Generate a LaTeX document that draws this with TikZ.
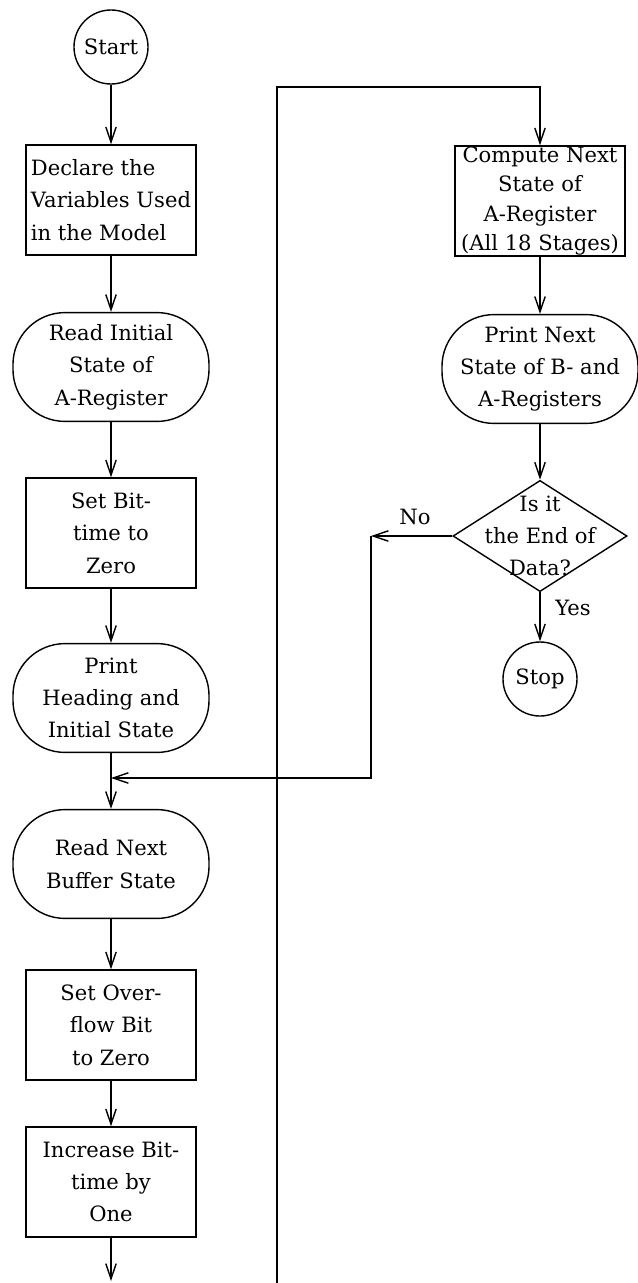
\documentclass[tikz,border=0pt]{standalone}
\usepackage{fontspec}
\setmainfont{DejaVu Serif}
\usetikzlibrary{arrows.meta,shapes.geometric}

\begin{document}
\begin{tikzpicture}[x=0.025cm, y=-0.025cm, line width=1pt,
>={Straight Barb[length=3.8mm,width=2.6mm]},
every node/.style={align=center, font=\fontsize{15}{23}\selectfont},
box/.style={draw, rectangle, inner sep=0pt, minimum width=4.25cm, minimum height=2.75cm},
term/.style={draw, rectangle, rounded corners=1.3cm, inner sep=0pt, minimum width=4.9cm, minimum height=2.72cm},
circ/.style={draw, circle, inner sep=0pt, minimum size=1.85cm},
test/.style={draw, diamond, inner sep=0pt, minimum width=4.35cm, minimum height=2.78cm}]
\useasboundingbox (0,0) rectangle (638,1283);
%================================================================
%	Left column
\node[style=circ] (start) at (111,47) {Start};
\node[style=box, align=left] (declare) at (111,200) {Declare the\\Variables Used\\in the Model};
\node[style=term] (readinit) at (111,367) {Read Initial\\State of\\A-Register};
\node[style=box] (setbit) at (111,533) {Set Bit-\\time to\\Zero};
\node[style=term] (printhead) at (111,698) {Print\\Heading and\\Initial State};
\node[style=term] (readnext) at (111,864) {Read Next\\Buffer State};
\node[style=box] (setovf) at (111,1025) {Set Over-\\flow Bit\\to Zero};
\node[style=box] (incr) at (111,1182) {Increase Bit-\\time by\\One};
%----------------------------------------------------------------
%	Right column
\node[style=box, font=\fontsize{15}{21}\selectfont] (compute) at (540,201) {Compute Next\\State of\\A-Register\\(All 18 Stages)};
\node[style=term] (printnext) at (540,369) {Print Next\\State of B- and\\A-Registers};
\node[style=test] (endq) at (540,536) {};
\node at (endq) {Is it\\the End of\\Data?};
\node[style=circ] (stop) at (540,679) {Stop};
%----------------------------------------------------------------
\coordinate (join) at (111,778);
\coordinate (noturn) at (371,536);
\coordinate (out) at (111,1281);
\coordinate (loopin) at (277,1283);
\coordinate (looptop) at (277,87);

%================================================================
%	Lines
\draw[->] (start) -- (declare);
\draw[->] (declare) -- (readinit);
\draw[->] (readinit) -- (setbit);
\draw[->] (setbit) -- (printhead);
\draw[->] (printhead) -- (readnext);
\draw[->] (readnext) -- (setovf);
\draw[->] (setovf) -- (incr);
\draw[->] (incr) -- (out);
%----------------------------------------------------------------
\draw[->] (loopin) -- (looptop) -| (compute.north);
\draw[->] (compute) -- (printnext);
\draw[->] (printnext) -- (endq.north);
\draw[->] (endq.south) -- (stop);
\draw[->] (endq.west) -- (noturn);
\draw[->] (noturn) |- (join);

%================================================================
%	Labels
\node (no) at (415,517) {No};
\node (yes) at (573,608) {Yes};
%================================================================
\end{tikzpicture}
\end{document}
